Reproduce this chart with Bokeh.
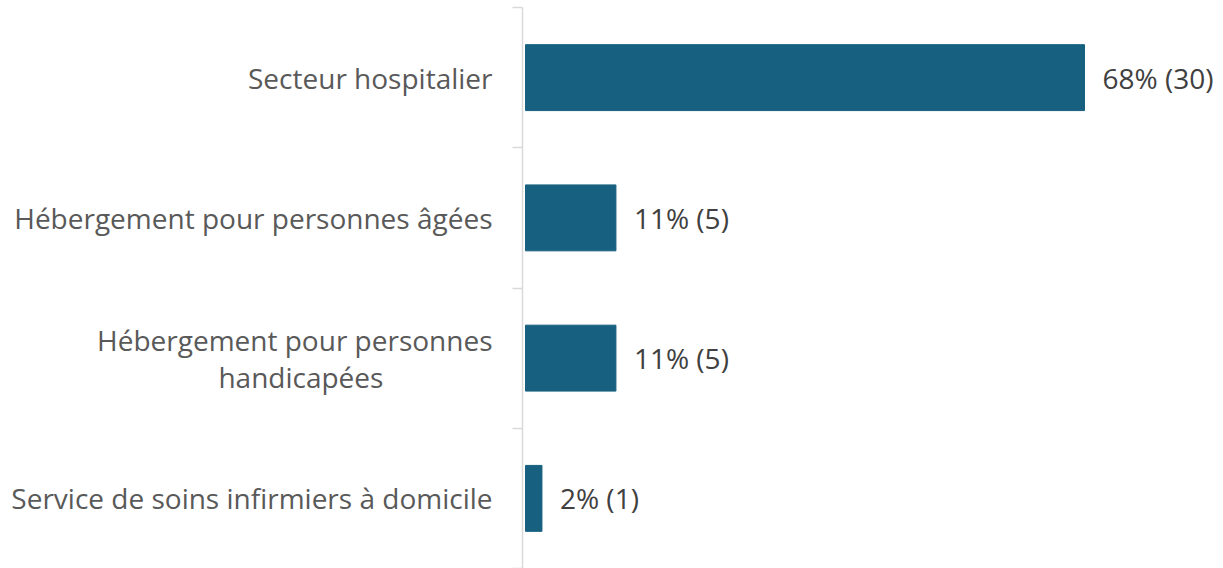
from bokeh.plotting import figure
from bokeh.models import ColumnDataSource, FixedTicker, Range1d
from bokeh.core.properties import value
from bokeh.embed import file_html
from bokeh.resources import INLINE

NBSP = "\u00a0"
categories = [
    "Secteur hospitalier",
    "Hébergement pour personnes âgées",
    "Hébergement pour personnes\nhandicapées" + NBSP * 15,
    "Service de soins infirmiers à domicile",
]
percent = [68, 11, 11, 2]
counts = [30, 5, 5, 1]

n = len(categories)
ypos = [n - i - 0.5 for i in range(n)]
labels = [f"{p}% ({c})" for p, c in zip(percent, counts)]

src = ColumnDataSource(dict(y=ypos, pct=percent, lab=labels))

FONT = "Open Sans"
p = figure(width=1223, height=568, output_backend="svg", toolbar_location=None,
           x_range=Range1d(-0.365, 84.91), y_range=Range1d(0, n),
           min_border_left=522, min_border_right=0, min_border_top=7, min_border_bottom=0)
p.hbar(y="y", left=0, right="pct", height=0.47, source=src, color="#17607F")
p.text(x="pct", y="y", text="lab", source=src, x_offset=18, text_baseline="middle",
       text_align="left", text_font=value(FONT), text_font_size="28px", text_color="#404040")

p.xaxis.visible = False
p.xgrid.visible = False
p.ygrid.visible = False
p.outline_line_color = None

ax = p.yaxis[0]
ax.ticker = FixedTicker(ticks=ypos, minor_ticks=list(range(n + 1)))
ax.major_label_overrides = {y: c for y, c in zip(ypos, categories)}
ax.major_tick_line_color = None
ax.major_tick_out = 0
ax.major_tick_in = 0
ax.minor_tick_line_color = "#d9d9d9"
ax.minor_tick_line_width = 1.5
ax.minor_tick_out = 10
ax.minor_tick_in = 0
ax.axis_line_color = "#d9d9d9"
ax.axis_line_width = 1.5
ax.major_label_standoff = 20
ax.major_label_text_font = FONT
ax.major_label_text_font_size = "28px"
ax.major_label_text_color = "#595959"
ax.major_label_text_line_height = 0.97

open("out.html", "w").write(file_html(p, INLINE))
